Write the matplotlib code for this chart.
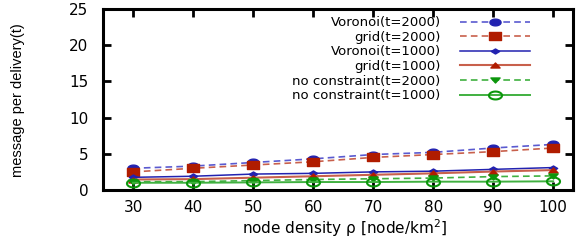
import numpy as np
import matplotlib
matplotlib.use("Agg")
import matplotlib.pyplot as plt
from matplotlib.path import Path

# ---- data ----
density = [30, 40, 50, 60, 70, 80, 90, 100]
vor2000 = [3.0, 3.3, 3.8, 4.3, 4.9, 5.2, 5.8, 6.3]
grid2000 = [2.5, 3.0, 3.45, 3.9, 4.5, 4.9, 5.3, 5.8]
vor1000 = [1.75, 1.9, 2.2, 2.3, 2.5, 2.6, 2.85, 3.1]
grid1000 = [1.45, 1.5, 1.7, 1.9, 2.1, 2.3, 2.55, 2.75]
nc2000 = [1.15, 1.15, 1.3, 1.45, 1.55, 1.65, 1.85, 1.95]
nc1000 = [1.0, 1.0, 1.05, 1.1, 1.1, 1.15, 1.15, 1.2]
labels = ["Voronoi(t=2000)", "grid(t=2000)", "Voronoi(t=1000)",
          "grid(t=1000)", "no constraint(t=2000)", "no constraint(t=1000)"]
yticks = [0, 5, 10, 15, 20, 25]

# ---- stretched marker shapes (reference is horizontally stretched) ----
SX = 1.65
th = np.linspace(0, 2 * np.pi, 40)
ellipse = Path(np.column_stack([SX * np.cos(th), np.sin(th)]), closed=True)
rect = Path([(-SX, -1), (SX, -1), (SX, 1), (-SX, 1), (-SX, -1)], closed=True)
diamond = Path([(0, -1), (SX, 0), (0, 1), (-SX, 0), (0, -1)], closed=True)
tri_up = Path([(-SX, -0.9), (SX, -0.9), (0, 0.9), (-SX, -0.9)], closed=True)
tri_dn = Path([(-SX, 0.9), (SX, 0.9), (0, -0.9), (-SX, 0.9)], closed=True)

blue_l = "#5a5ad0"
blue_m = "#2222b0"
red_l = "#c8604c"
red_m = "#b01c00"
green_l = "#40b040"
green_m = "#0c960c"

fig = plt.figure(figsize=(5.83, 2.41), dpi=100)
ax = fig.add_axes([103 / 583, 1 - 190 / 241, 470 / 583, 181 / 241])

dash = (0, (4, 2.5))
ax.plot(density, vor2000, linestyle=dash, color=blue_l, lw=1.2,
        marker=ellipse, ms=8.0, mfc=blue_m, mec=blue_m, label=labels[0])
ax.plot(density, grid2000, linestyle=dash, color=red_l, lw=1.2,
        marker=rect, ms=8.6, mfc=red_m, mec=red_m, label=labels[1])
ax.plot(density, vor1000, linestyle="-", color=blue_m, lw=1.1,
        marker=diamond, ms=6.0, mfc=blue_m, mec=blue_m, label=labels[2])
ax.plot(density, grid1000, linestyle="-", color=red_l, lw=1.5,
        marker=tri_up, ms=6.6, mfc=red_m, mec=red_m, label=labels[3])
ax.plot(density, nc2000, linestyle=dash, color=green_l, lw=1.2,
        marker=tri_dn, ms=6.6, mfc=green_m, mec=green_m, label=labels[4])
ax.plot(density, nc1000, linestyle="-", color=green_l, lw=1.4,
        marker=ellipse, ms=9.4, mfc="none", mec=green_m, mew=1.5, label=labels[5])

ax.set_xlim(25, 103.3)
ax.set_ylim(0, 25)
ax.set_xticks(density)
ax.set_yticks(yticks)

for s in ax.spines.values():
    s.set_linewidth(2.2)
ax.tick_params(axis="both", which="both", direction="in", length=6, width=2,
               top=True, right=True, labelsize=11, colors="black")
ax.tick_params(axis="y", pad=10.5)
ax.tick_params(axis="x", pad=7)

ax.set_xlabel("node density ρ [node/km$^2$]", fontsize=11)
ax.xaxis.set_label_coords((344.5 - 103) / 470, -(228 - 190) / 181)
ax.xaxis.label.set_va("center")
ax.set_ylabel("message per delivery(t)", fontsize=10.5, family="Liberation Sans")
ax.yaxis.set_label_coords(-(103 - 18) / 470, (190 - 100) / 181)
ax.yaxis.label.set_va("center")

leg = ax.legend(loc="upper right", bbox_to_anchor=((531 - 103 + 4) / 470, 0.985),
                markerfirst=False, alignment="right", frameon=False,
                fontsize=9.5, handlelength=5.3, handletextpad=1.5,
                labelspacing=0.12, borderpad=0.35, borderaxespad=0.0)

fig.savefig("out.png", dpi=100)
